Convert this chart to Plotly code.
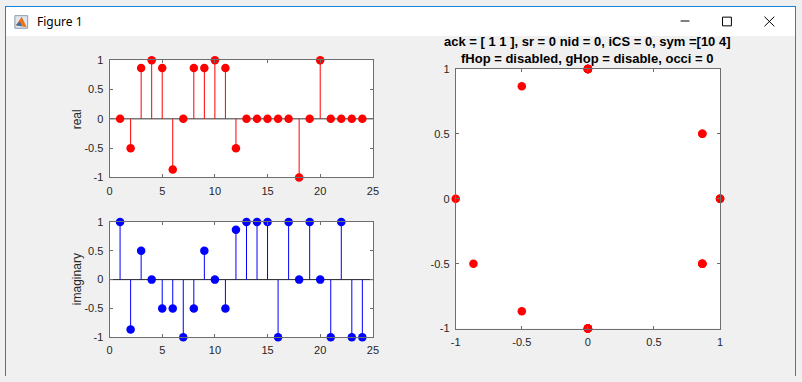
import plotly.graph_objects as go

# ---------------- data ----------------
n = list(range(1, 25))
real_vals = [0, -0.5, 0.866, 1, 0.866, -0.866, 0, 0.866, 0.866, 1, 0.866, -0.5,
             0, 0, 0, 0, 0, -1, 0, 1, 0, 0, 0, 0]
imag_vals = [1, -0.866, 0.5, 0, -0.5, -0.5, -1, -0.5, 0.5, 0, -0.5, 0.866,
             1, 1, 1, -1, 1, 0, 1, 0, -1, 1, -1, -1]
n_ticks = [0, 5, 10, 15, 20, 25]
n_ticktext = ["0", "5", "10", "15", "20", "25"]
v_ticks = [-1, -0.5, 0, 0.5, 1]
v_ticktext = ["-1", "-0.5", "0", "0.5", "1"]
title_lines = ["ack = [ 1 1 ], sr = 0 nid = 0, iCS = 0, sym =[10 4]",
               "fHop = disabled, gHop = disable, occi = 0"]
window_title = "Figure 1"

W, H = 802, 382
def px(x): return x / W
def py(y): return 1 - y / H

FONT = "Liberation Sans, Arial, Helvetica, sans-serif"
AX = "#6e6e6e"
TXT = "#262626"
MS = 8.5

def stems(xv, yv):
    xs, ys = [], []
    for a, b in zip(xv, yv):
        xs += [a, a, None]
        ys += [0, b, None]
    return xs, ys

fig = go.Figure()

rx, ry = stems(n, real_vals)
fig.add_trace(go.Scatter(x=rx, y=ry, mode="lines", line=dict(color="#ff0000", width=1),
                         xaxis="x", yaxis="y", hoverinfo="skip", showlegend=False))
fig.add_trace(go.Scatter(x=n, y=real_vals, mode="markers", marker=dict(color="#ff0000", size=MS),
                         xaxis="x", yaxis="y", showlegend=False, cliponaxis=False))

ix, iy = stems(n, imag_vals)
fig.add_trace(go.Scatter(x=ix, y=iy, mode="lines", line=dict(color="#0000ff", width=1),
                         xaxis="x2", yaxis="y2", hoverinfo="skip", showlegend=False))
fig.add_trace(go.Scatter(x=n, y=imag_vals, mode="markers", marker=dict(color="#0000ff", size=MS),
                         xaxis="x2", yaxis="y2", showlegend=False, cliponaxis=False))

fig.add_trace(go.Scatter(x=real_vals, y=imag_vals, mode="markers",
                         marker=dict(color="#ff0000", size=MS),
                         xaxis="x3", yaxis="y3", showlegend=False, cliponaxis=False))

def axis(domain, rng, tv, tt, anchor):
    return dict(domain=domain, range=rng, tickvals=tv, ticktext=tt, anchor=anchor,
                showgrid=False, zeroline=False, showline=True, linecolor=AX, linewidth=1,
                mirror="ticks", ticks="inside", ticklen=3, tickcolor=AX,
                tickfont=dict(family=FONT, size=11, color=TXT), ticklabelstandoff=3,
                fixedrange=True)

layout = dict(
    width=W, height=H, margin=dict(l=0, r=0, t=0, b=0),
    paper_bgcolor="#f0f0f0", plot_bgcolor="#ffffff", showlegend=False,
    xaxis=axis([px(106), px(373)], [0, 25], n_ticks, n_ticktext, "y"),
    yaxis=axis([py(177), py(56)], [-1, 1], v_ticks, v_ticktext, "x"),
    xaxis2=axis([px(106), px(373)], [0, 25], n_ticks, n_ticktext, "y2"),
    yaxis2=axis([py(342), py(223)], [-1, 1], v_ticks, v_ticktext, "x2"),
    xaxis3=axis([px(457), px(725)], [-1, 1], v_ticks, v_ticktext, "y3"),
    yaxis3=axis([py(333), py(65)], [-1, 1], v_ticks, v_ticktext, "x3"),
)
fig.update_layout(**layout)

shapes = [
    # baselines
    dict(type="line", xref="x domain", yref="y", x0=0, x1=1, y0=0, y1=0,
         line=dict(color="#333333", width=1), layer="below"),
    dict(type="line", xref="x2 domain", yref="y2", x0=0, x1=1, y0=0, y1=0,
         line=dict(color="#222222", width=1), layer="below"),
    # window title bar
    dict(type="rect", xref="paper", yref="paper", x0=0, x1=1, y0=py(31), y1=1,
         fillcolor="#ffffff", line=dict(width=0), layer="below"),
    dict(type="line", xref="paper", yref="paper", x0=0, x1=1, y0=py(0.5), y1=py(0.5),
         line=dict(color="#1883d7", width=1)),
    dict(type="line", xref="paper", yref="paper", x0=px(0.5), x1=px(0.5), y0=0, y1=1,
         line=dict(color="#1883d7", width=1)),
    dict(type="line", xref="paper", yref="paper", x0=px(801.5), x1=px(801.5), y0=0, y1=1,
         line=dict(color="#1883d7", width=1)),
    # minimize
    dict(type="line", xref="paper", yref="paper", x0=px(685), x1=px(694), y0=py(15.5), y1=py(15.5),
         line=dict(color="#000000", width=1)),
    # maximize
    dict(type="rect", xref="paper", yref="paper", x0=px(727.5), x1=px(736.5), y0=py(20.5), y1=py(11.5),
         line=dict(color="#000000", width=1)),
    # close
    dict(type="line", xref="paper", yref="paper", x0=px(770), x1=px(780), y0=py(11), y1=py(21),
         line=dict(color="#000000", width=1)),
    dict(type="line", xref="paper", yref="paper", x0=px(770), x1=px(780), y0=py(21), y1=py(11),
         line=dict(color="#000000", width=1)),
    # icon
    dict(type="rect", xref="paper", yref="paper", x0=px(10), x1=px(23), y0=py(23), y1=py(10),
         fillcolor="#dfe6ee", line=dict(color="#8a9bb0", width=1)),
    dict(type="path", xref="paper", yref="paper",
         path=f"M {px(11)},{py(20)} L {px(17)},{py(11)} L {px(22)},{py(22)} Z",
         fillcolor="#e8741c", line=dict(width=0)),
    dict(type="path", xref="paper", yref="paper",
         path=f"M {px(11)},{py(20)} L {px(15)},{py(16)} L {px(17)},{py(21)} Z",
         fillcolor="#2a6fb5", line=dict(width=0)),
]
fig.update_layout(shapes=shapes)

annotations = [
    dict(text="<b>" + title_lines[0] + "<br>" + title_lines[1] + "</b>",
         xref="paper", yref="paper", x=px(591), y=py(45), xanchor="center", yanchor="middle",
         showarrow=False, font=dict(family=FONT, size=13, color="#000000")),
    dict(text="real", xref="paper", yref="paper", x=px(73), y=py(117), textangle=-90,
         xanchor="center", yanchor="middle", showarrow=False,
         font=dict(family=FONT, size=12, color=TXT)),
    dict(text="imaginary", xref="paper", yref="paper", x=px(73), y=py(282), textangle=-90,
         xanchor="center", yanchor="middle", showarrow=False,
         font=dict(family=FONT, size=12, color=TXT)),
    dict(text=window_title, xref="paper", yref="paper", x=px(30), y=py(16), xanchor="left",
         yanchor="middle", showarrow=False,
         font=dict(family="Noto Sans, DejaVu Sans, sans-serif", size=12, color="#000000")),
]
fig.update_layout(annotations=annotations)

fig.write_html("out.html", config={"displayModeBar": False},
               post_script="document.body.style.margin='0';document.body.style.overflow='hidden';")
